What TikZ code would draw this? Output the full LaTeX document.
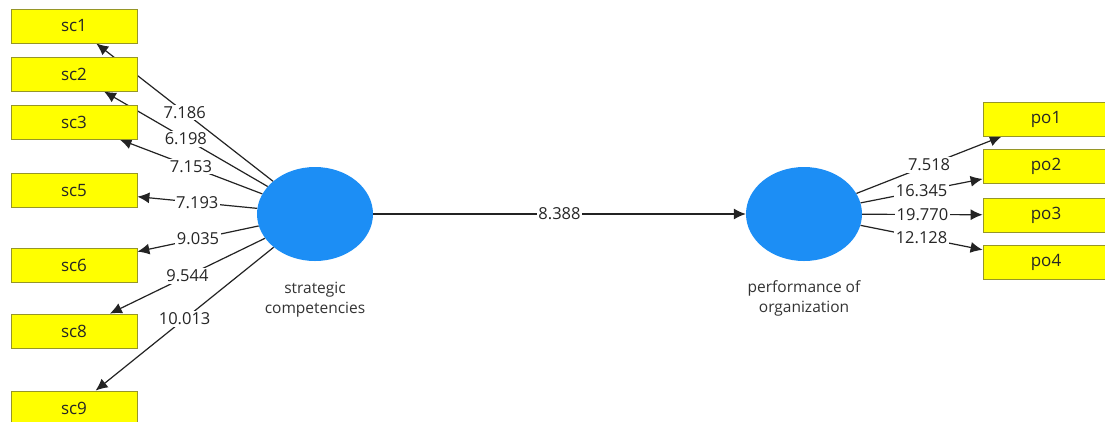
\documentclass[tikz,border=0pt]{standalone}
\usepackage{fontspec}
\setmainfont{Open Sans}
\usetikzlibrary{arrows.meta,backgrounds,shapes.geometric}
\definecolor{boxyellow}{RGB}{255,255,0}
\definecolor{boxedge}{RGB}{150,150,40}
\definecolor{latblue}{RGB}{28,142,245}
\definecolor{linegray}{RGB}{35,35,35}
\begin{document}
\begin{tikzpicture}[x=1pt,y=-1pt,
  ind/.style={draw=boxedge,line width=0.8pt,fill=boxyellow,minimum width=126pt,minimum height=34pt,inner sep=0pt,font=\fontsize{17}{19}\selectfont,text=black!85},
  lat/.style={ellipse,fill=latblue,draw=none,minimum width=116pt,minimum height=94pt,inner sep=0pt},
  lattext/.style={align=center,font=\fontsize{15.5}{20}\selectfont,text=black!80},
  conn/.style={draw=linegray,line width=1.2pt,-{Latex[length=12pt,width=11pt]}},
  val/.style={fill=white,inner sep=1.5pt,font=\fontsize{16.5}{18}\selectfont,text=black!85}
]
\useasboundingbox (0,0) rectangle (1105,421);
% indicators left
\node[ind] (sc1) at (74,26) {sc1};
\node[ind] (sc2) at (74,74) {sc2};
\node[ind] (sc3) at (74,122) {sc3};
\node[ind] (sc5) at (74,190.5) {sc5};
\node[ind] (sc6) at (74,265) {sc6};
\node[ind] (sc8) at (74,331) {sc8};
\node[ind] (sc9) at (74,408) {sc9};
% indicators right
\node[ind] (po1) at (1046,119) {po1};
\node[ind] (po2) at (1046,166.5) {po2};
\node[ind] (po3) at (1046,215) {po3};
\node[ind] (po4) at (1046,262.5) {po4};
% latent variables
\node[lat] (sc) at (315,214) {};
\node[lat] (po) at (804,214) {};
\node[lattext] (sct) at (315,300) {strategic\\competencies};
\node[lattext] (pot) at (804,298) {performance of\\organization};
\begin{scope}[on background layer]
\fill[white] (0,0) rectangle (1105,421);
\draw[conn] (sc) -- node[val] {7.186} (sc1);
\draw[conn] (sc) -- node[val] {6.198} (sc2);
\draw[conn] (sc) -- node[val] {7.153} (sc3);
\draw[conn] (sc) -- node[val] {7.193} (sc5);
\draw[conn] (sc) -- node[val] {9.035} (sc6);
\draw[conn] (sc) -- node[val] {9.544} (sc8);
\draw[conn] (sc) -- node[val] {10.013} (sc9);
\draw[conn] (sc) -- node[val] {8.388} (po);
\draw[conn] (po) -- node[val] {7.518} (po1);
\draw[conn] (po) -- node[val] {16.345} (po2);
\draw[conn] (po) -- node[val] {19.770} (po3);
\draw[conn] (po) -- node[val] {12.128} (po4);
\end{scope}
\end{tikzpicture}
\end{document}
